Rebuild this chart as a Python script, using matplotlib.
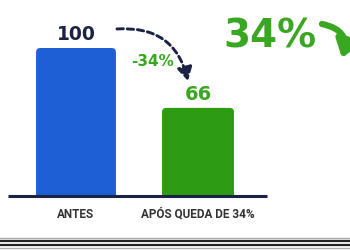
import matplotlib
matplotlib.use("Agg")
import matplotlib.pyplot as plt
from matplotlib.lines import Line2D
from matplotlib.patches import FancyArrowPatch, FancyBboxPatch

categories = ["ANTES", "APÓS QUEDA DE 34%"]
values = [100, 66]
value_labels = ["100", "66"]
change_label = "-34%"
big_label = "34%"

BLUE = "#1f5fd6"
GREEN = "#2e9c12"
TGREEN = "#3aa722"
NAVY = "#1b2244"
GRAY = "#333333"

W, H = 350, 250
fig = plt.figure(figsize=(3.5, 2.5), dpi=100)
fig.patch.set_facecolor("white")

# axes: baseline at y=196 px, top (100) at y=48 px, left 8 px, right 267 px
ax = fig.add_axes([8 / W, (H - 196) / H, (267 - 8) / W, (196 - 48) / H])
ax.set_xlim(-68 / 122, 191 / 122)
ax.set_ylim(16, 100)
ax.axis("off")

x = list(range(len(categories)))
bars = ax.bar(x, values, width=[0.655, 0.59], color=[BLUE, GREEN], zorder=2)

# rounded corners: replace each bar rectangle by a rounded box of same geometry
px_x = 122.0
px_y = 148.0 / 84.0
for b in bars:
    bx, by, bw, bh = b.get_x(), b.get_y(), b.get_width(), b.get_height()
    rb = FancyBboxPatch((bx, by), bw, bh,
                        boxstyle="round,pad=0,rounding_size=0.035",
                        mutation_aspect=px_x / px_y,
                        facecolor=b.get_facecolor(), edgecolor="none", zorder=2)
    ax.add_patch(rb)
    b.set_visible(False)

# baseline
ax.plot([0, 1], [0, 0], transform=ax.transAxes, color=NAVY, lw=2.2,
        solid_capstyle="butt", clip_on=False, zorder=3)

# category labels
for xi, c in zip(x, categories):
    ax.annotate(c, (xi, 16), xytext=(0, -13), textcoords="offset points",
                ha="center", va="center", fontsize=8.5, fontweight="bold",
                family="Roboto", color=GRAY, annotation_clip=False)

# value labels
label_colors = [NAVY, TGREEN]
label_sizes = [13.5, 14]
for xi, v, lab, col, fs in zip(x, values, value_labels, label_colors, label_sizes):
    ax.annotate(lab, (xi, v), xytext=(0, 9.7), textcoords="offset points",
                ha="center", va="center", fontsize=fs, fontweight="bold",
                color=col, annotation_clip=False)

# dashed curved arrow
ax.annotate("", xy=(0.918, 81.3), xytext=(0.336, 110.8),
            arrowprops=dict(arrowstyle="-|>,head_length=0.8,head_width=0.45",
                            linestyle=(0, (2.2, 1.3)), lw=2.1, color=NAVY,
                            connectionstyle="arc3,rad=-0.42",
                            shrinkA=0, shrinkB=0),
            annotation_clip=False)
ax.text(0.63, 92.1, change_label, ha="center", va="center", fontsize=11,
        fontweight="bold", color=TGREEN)

# big label
fig.text(270 / W, 1 - 37 / H, big_label, ha="center", va="center",
         fontsize=28, fontweight="bold", color=TGREEN)
fig.add_artist(FancyArrowPatch(
    (322 / W, 1 - 24 / H), (342 / W, 1 - 58 / H),
    transform=fig.transFigure, connectionstyle="arc3,rad=-0.55",
    arrowstyle="-|>,head_length=10,head_width=7", lw=4.5, color=TGREEN,
    mutation_scale=1, shrinkA=0, shrinkB=0))

# bottom frame lines
for yy, lw, col in [(238, 1.0, "#aaaaaa"), (240.5, 1.6, "#222222"),
                    (245, 1.6, "#222222"), (248, 1.0, "#aaaaaa")]:
    fig.add_artist(Line2D([0, 1], [1 - yy / H, 1 - yy / H],
                          transform=fig.transFigure, color=col, lw=lw))

fig.savefig("out.png", dpi=100, facecolor="white")
